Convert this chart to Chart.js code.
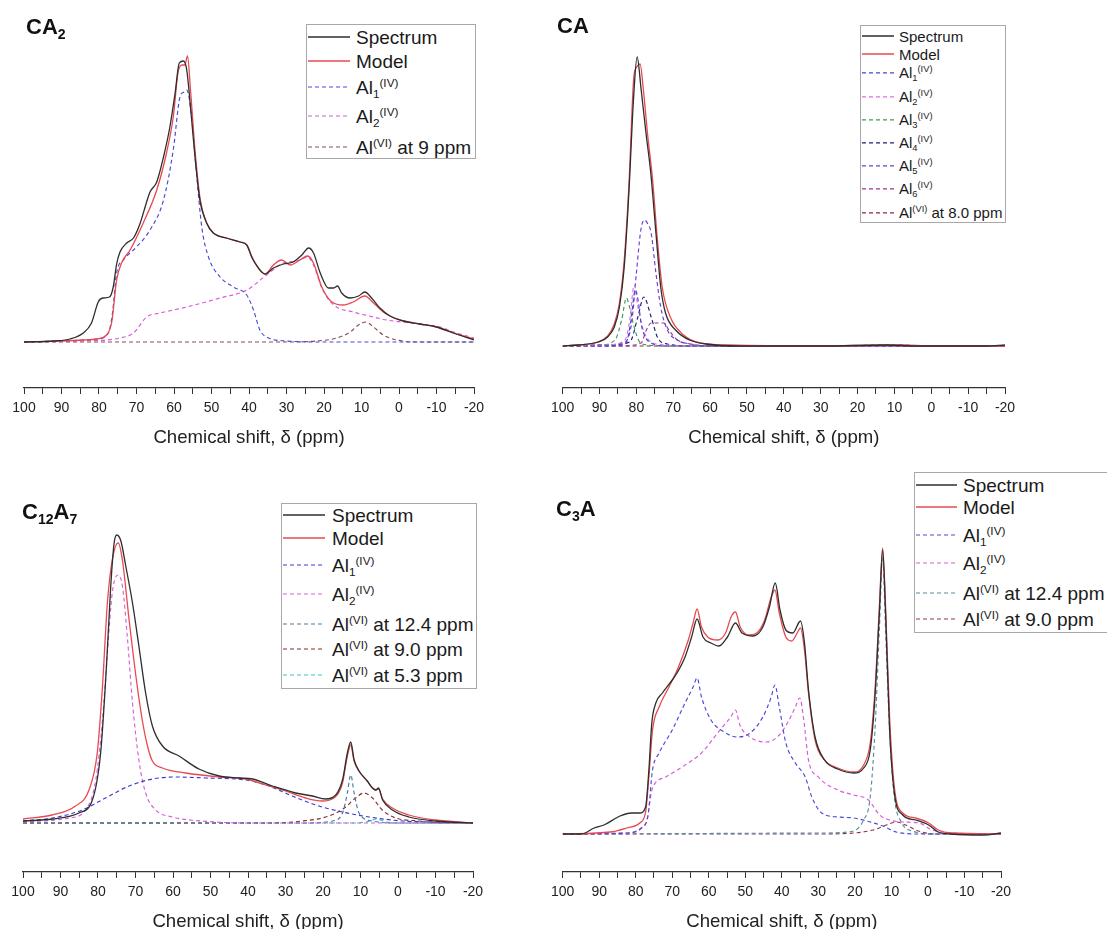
<!DOCTYPE html>
<html><head><meta charset="utf-8">
<script src="https://cdn.jsdelivr.net/npm/chart.js@4.4.1/dist/chart.umd.min.js"></script>
<style>
html,body{margin:0;padding:0;background:#fff;}
body{width:1107px;height:929px;position:relative;overflow:hidden;font-family:"Liberation Sans",Arial,sans-serif;color:#1a1a1a;}
.ttl{position:absolute;font-weight:bold;font-size:22px;line-height:1;white-space:nowrap;color:#111;}
.ttl sub{font-size:0.64em;position:relative;top:0.32em;vertical-align:baseline;}
.legend{position:absolute;border:1px solid #a8a8a8;background:#fff;box-sizing:border-box;z-index:5;}
.row{position:absolute;display:flex;align-items:center;transform:translateY(-50%);white-space:nowrap;line-height:1;}
.row svg{display:block;flex:none;}
.row sub,.row sup{font-size:0.62em;position:relative;vertical-align:baseline;}
.row sub{top:0.35em;}
.row sup{top:-0.62em;}
</style></head><body>
<script>
// ---------------- DATA: [chemical shift (ppm), intensity (a.u.)] ----------------
const xTickMin = -20, xTickMax = 100, xTickStep = 5;

// CA2
const ca2Spectrum = [[100,0],[92,1],[87.7,3],[84.2,9],[82,19],[80.2,40],[79,44],[77.2,45],[76.2,55],[75.3,78],[74.4,90],[72.6,99],[70.8,104],[69.1,118],[67.3,140],[66.4,150],[64.6,160],[62.8,185],[61.1,215],[59.7,249],[58.6,279],[57.5,281],[56.6,272],[55.6,235],[54.4,185],[53.1,142],[51.3,119],[49.5,109],[46,104],[42.4,100],[40.6,97],[39.3,85],[37.5,74],[35.7,68],[33.5,74],[30.8,78],[28.2,80],[25.9,87],[24.1,94],[22.8,89],[21,69],[18.8,54],[17.4,54],[16.4,56],[15.3,49],[13,44],[10.8,46],[9.1,50],[7.3,44],[5.1,34],[2.4,26],[-1.2,21],[-5.6,18],[-10,15],[-14.5,9],[-20,2]];
const ca2Model = [[100,0],[90,1],[84,2],[80.6,3],[78,7],[76.6,20],[75.3,62],[74,79],[71.7,92],[68.2,119],[64.6,152],[62,189],[60.2,225],[58.8,272],[57.7,277],[57.1,277],[56.4,286],[55.6,252],[54.4,192],[53.1,145],[51.3,119],[49.5,109],[46,104],[42.4,100],[40.6,97],[38.8,82],[35.7,68],[33.5,77],[31.3,82],[29,77],[26.4,82],[24.4,86],[22.8,79],[20.6,55],[17.9,40],[14.8,37],[12.2,40],[9.1,46],[6.8,39],[4.2,30],[2.4,26],[-1.2,21],[-5.6,18],[-10,15],[-14.5,9],[-20,3]];
const ca2Al1 = [[100,0],[90,1],[80.6,3],[77.5,9],[76.4,29],[75.3,69],[73.5,82],[70,95],[66.4,112],[62.8,142],[60.2,192],[58.4,245],[57.3,250],[56.6,252],[55.3,225],[54,169],[52.6,115],[50.8,85],[47.7,65],[44.2,55],[40.6,47],[38.8,32],[37.1,12],[34.8,4],[30,1],[20,0],[-20,0]];
const ca2Al2 = [[100,0],[85,1],[74.4,4],[70.8,9],[67.3,25],[63.7,29],[56.6,35],[47.7,44],[40.6,52],[35.3,67],[30.8,79],[27.3,81],[24.4,85],[22.8,77],[20.6,54],[17.4,37],[12.2,30],[6.8,25],[3.3,22],[-5.6,18],[-10.9,15],[-14.5,10],[-20,4]];
const ca2AlVI9 = [[100,0],[30,0],[22,1],[16.6,4],[13,10],[10.8,17],[8.8,20],[6.8,15],[4.2,7],[0.6,2],[-5,0],[-20,0]];

// CA
const caSpectrum = [[100,0],[95.7,1],[90.4,4],[87.8,9],[86,19],[84.6,39],[83.3,79],[82,156],[80.8,246],[79.8,289],[78.7,256],[77.4,213],[76.1,173],[74.7,113],[73.4,59],[72.1,33],[69.1,15],[65.6,6],[61.1,2],[52.3,0],[30,0],[12,1],[4,0],[-15,0],[-20,1]];
const caModel = [[100,0],[95.7,1],[90.4,4],[87.8,10],[86,22],[84.6,43],[83.3,86],[82,163],[80.7,269],[79.9,279],[79,282],[78.1,256],[77,213],[75.6,166],[74.3,106],[73,59],[70.8,29],[67.2,11],[62.7,3],[55,1],[30,0],[12,1],[8,1],[0,0],[-20,0]];
const caAl1 = [[100,0],[88,0],[84,1],[82.7,4],[81.5,25],[80.3,56],[79.5,45],[78.7,22],[77.6,9],[76,3],[72,0],[-20,0]];
const caAl2 = [[100,0],[88,1],[83.1,6],[81.8,26],[80.6,61],[79.6,39],[77.8,13],[76,4],[72,1],[65,0],[-20,0]];
const caAl3 = [[100,0],[90,1],[85.8,6],[84,26],[82.7,48],[81.8,38],[80.9,23],[79.1,4],[77,1],[70,0],[-20,0]];
const caAl4 = [[100,0],[88,1],[81.8,4],[79.6,29],[78,49],[76,29],[74.2,8],[71.6,2],[65,0],[-20,0]];
const caAl5 = [[100,0],[90,1],[83.1,4],[81.3,23],[80,73],[78.8,116],[77.8,126],[76.9,122],[76,113],[74.7,73],[73.4,39],[71.6,16],[68.9,6],[65.4,2],[60,0],[-20,0]];
const caAl6 = [[100,0],[85,0],[78.7,3],[77.3,16],[76,23],[72.5,23],[71.2,16],[68.9,6],[65.4,2],[60,0],[-20,0]];
const caAlVI8 = [[100,0],[25,0],[14,1],[8,1],[2,0],[-20,0]];

// C12A7
const c12a7Spectrum = [[100,2],[92.2,4],[85.1,10],[81.5,23],[79.3,70],[77.8,153],[76.6,237],[75.7,280],[75,288],[73.9,282],[72.6,257],[70.8,220],[69.1,177],[67.3,130],[65.5,97],[62.8,77],[58.4,67],[53.1,54],[47.7,47],[42.4,45],[38.8,44],[33.5,37],[27.3,30],[22.8,27],[19.3,24],[16.6,28],[14.8,43],[13.5,70],[12.6,81],[11.7,63],[10.4,52],[8.2,42],[6.8,35],[5.9,33],[5.2,35],[4.1,23],[1.5,13],[-2.9,6],[-10,2],[-20,0]];
const c12a7Model = [[100,4],[92.2,8],[86,17],[82.4,33],[80.2,70],[78.8,137],[77.5,220],[76.2,263],[74.6,280],[73.5,263],[71.7,203],[69.9,147],[68.2,103],[66.8,77],[65.5,62],[62.8,55],[56.6,50],[47.7,46],[40.6,44],[35.3,38],[30,32],[24.6,25],[20.2,22],[17.1,25],[14.8,40],[13.5,67],[12.6,78],[11.7,62],[10.4,52],[8.2,42],[6.8,35],[5.9,33],[5.2,34],[4.1,24],[1.5,15],[-2.9,8],[-10,3],[-20,0]];
const c12a7Al1 = [[100,2],[92.2,5],[84.2,13],[78,25],[71.7,37],[65.5,44],[59.3,46],[51.3,45],[40.6,43],[34.4,37],[28.2,27],[21.1,17],[14.8,11],[7.7,6],[-1.2,2],[-10,1],[-20,0]];
const c12a7Al2 = [[100,1],[87.7,5],[83.3,13],[80.6,43],[78.8,103],[77.5,170],[76.2,230],[74.7,248],[73.5,237],[72.2,187],[70.8,120],[69.1,63],[67.3,30],[64.6,13],[60.2,6],[52.2,2],[40,0],[-20,0]];
const c12a7AlVI124 = [[100,0],[25,0],[17.5,2],[14.8,10],[13.5,30],[12.6,48],[11.7,30],[10.4,10],[6.8,2],[0,0],[-20,0]];
const c12a7AlVI90 = [[100,0],[35,0],[25.5,2],[18.4,7],[14.3,15],[11.3,25],[9.1,30],[6.8,25],[4.2,13],[0.6,5],[-5.6,2],[-12,0],[-20,0]];
const c12a7AlVI53 = [[100,0],[12,0],[8.6,1],[5.5,4],[3.3,1],[0,0],[-20,0]];

// C3A
const c3aSpectrum = [[100,0],[94.9,0],[91.4,6],[88.7,9],[84.3,18],[81.2,21],[78.9,21],[77.3,27],[76.4,64],[75.6,111],[74.5,131],[72.7,141],[70,154],[68.7,161],[66.5,177],[64.7,197],[63.2,215],[61.6,197],[59.4,191],[57.2,188],[54.9,197],[52.7,211],[50.9,201],[47.8,198],[45.2,207],[43.4,227],[41.8,251],[40.5,224],[38.9,204],[37,201],[34.9,213],[33.8,191],[32.7,144],[30.9,97],[28.3,74],[24.7,65],[20.3,61],[17.6,66],[15.8,84],[14.5,137],[13.3,221],[12.4,284],[11.6,221],[10.5,104],[9.2,41],[6.9,19],[3.4,14],[-0.2,9],[-2.8,2],[-6.4,0],[-15.3,-1],[-20,1]];
const c3aModel = [[100,0],[86.9,2],[82.5,6],[78.9,11],[77.3,22],[76.4,57],[75.4,104],[73.6,127],[70.9,147],[68.3,167],[65.6,194],[64.3,211],[63.2,225],[62,207],[60.3,197],[57.6,194],[55.4,201],[53.9,217],[52.7,222],[51.4,207],[49.1,199],[46.9,201],[44.7,214],[42.9,237],[41.9,244],[40.7,221],[38.9,197],[37.3,193],[35.8,201],[34.9,206],[33.8,184],[32.7,141],[30.9,94],[28.3,74],[24.7,66],[20.3,62],[17.6,69],[15.8,91],[14.5,144],[13.3,227],[12.4,286],[11.6,227],[10.5,117],[9.2,47],[6.9,21],[3.4,16],[-0.2,11],[-2.8,4],[-6.4,1],[-20,0]];
const c3aAl1 = [[100,0],[82.5,1],[78.5,6],[76.7,17],[75.4,64],[73.6,81],[70,104],[66.5,131],[64.3,147],[63.2,156],[62,137],[59.4,114],[55.8,102],[52.2,97],[48.7,101],[45.2,117],[42.9,137],[41.9,149],[40.7,127],[38.9,91],[36.3,71],[33.6,57],[31.8,37],[29.1,21],[24.7,17],[20.3,16],[15.8,12],[12.3,8],[8.7,2],[2,0],[-20,0]];
const c3aAl2 = [[100,0],[82.5,1],[77.2,11],[75.4,46],[71.8,57],[66.5,69],[62,81],[57.6,101],[54,117],[52.7,124],[51.5,109],[48.7,97],[44.2,92],[40.7,99],[38,114],[36.3,127],[35.1,136],[34,114],[32.7,74],[30,57],[24.7,44],[20.3,39],[16.3,34],[13.2,19],[10.5,14],[6.9,12],[2.4,11],[-1.1,4],[-6.4,1],[-20,0]];
const c3aAlVI124 = [[100,0],[29.1,1],[22,2],[17.6,14],[15.8,37],[14.5,104],[13.3,204],[12.4,277],[11.6,204],[10.5,104],[9.2,37],[7.3,12],[4.3,3],[-2,0],[-20,0]];
const c3aAlVI90 = [[100,0],[30,0],[20.3,1],[15,4],[11.4,9],[8.7,12],[6.1,9],[2.6,3],[-2,0],[-20,0]];

// ---------------- LABELS & STYLES ----------------
const AL_IV = n => `Al<sub>${n}</sub><sup>(IV)</sup>`;
const AL_VI = s => `Al<sup>(VI)</sup> at ${s} ppm`;
const SPEC = {html:'Spectrum', color:'#2e2e2e', dash:false};
const MODEL = {html:'Model', color:'#e64a50', dash:false};
const AXIS_TITLE = 'Chemical shift, δ (ppm)';

const panels = [
  { title:'CA<sub>2</sub>', tl:26, tt:16,
    box:{cx:0, cy:0, cw:545, ch:465, areaL:24, areaR:474, areaT:20, axisY:388, baseY:342},
    legend:{l:306, t:24, w:170, h:135, font:19, lx:308, lw:42, tx:356, rows:[37,61,87,116,147]},
    series:[
      Object.assign({pts:ca2Spectrum}, SPEC),
      Object.assign({pts:ca2Model}, MODEL),
      {html:AL_IV(1), pts:ca2Al1, color:'#4848d8', dash:true},
      {html:AL_IV(2), pts:ca2Al2, color:'#d85ad8', dash:true},
      {html:AL_VI('9'), pts:ca2AlVI9, color:'#8c4c4c', dash:true}
    ]},
  { title:'CA', tl:557, tt:15,
    box:{cx:545, cy:0, cw:562, ch:465, areaL:554, areaR:1005, areaT:20, axisY:388, baseY:346},
    legend:{l:860, t:25, w:146, h:198, font:15, lx:862, lw:32, tx:899, rows:[36,54,73,97,120,143,166,189,213]},
    series:[
      Object.assign({pts:caSpectrum}, SPEC),
      Object.assign({pts:caModel}, MODEL),
      {html:AL_IV(1), pts:caAl1, color:'#4646d4', dash:true},
      {html:AL_IV(2), pts:caAl2, color:'#e070e0', dash:true},
      {html:AL_IV(3), pts:caAl3, color:'#3c9a5a', dash:true},
      {html:AL_IV(4), pts:caAl4, color:'#1e1e78', dash:true},
      {html:AL_IV(5), pts:caAl5, color:'#6a3cd8', dash:true},
      {html:AL_IV(6), pts:caAl6, color:'#a0309a', dash:true},
      {html:AL_VI('8.0'), pts:caAlVI8, color:'#8a2a3a', dash:true}
    ]},
  { title:'C<sub>12</sub>A<sub>7</sub>', tl:22, tt:501,
    box:{cx:0, cy:465, cw:545, ch:464, areaL:23, areaR:473, areaT:500, axisY:872, baseY:823},
    legend:{l:281, t:503, w:196, h:186, font:19, lx:283, lw:42, tx:332, rows:[515,538,565,594,624,649,675]},
    series:[
      Object.assign({pts:c12a7Spectrum}, SPEC),
      Object.assign({pts:c12a7Model}, MODEL),
      {html:AL_IV(1), pts:c12a7Al1, color:'#3a3ad0', dash:true},
      {html:AL_IV(2), pts:c12a7Al2, color:'#d860d8', dash:true},
      {html:AL_VI('12.4'), pts:c12a7AlVI124, color:'#4a7a9a', dash:true},
      {html:AL_VI('9.0'), pts:c12a7AlVI90, color:'#8a2a2a', dash:true},
      {html:AL_VI('5.3'), pts:c12a7AlVI53, color:'#40c0c0', dash:true}
    ]},
  { title:'C<sub>3</sub>A', tl:556, tt:498,
    box:{cx:545, cy:465, cw:562, ch:464, areaL:551, areaR:1001, areaT:500, axisY:872, baseY:834},
    legend:{l:914, t:472, w:200, h:161, font:19, lx:916, lw:41, tx:963, rows:[485,507,535,563,593,619]},
    series:[
      Object.assign({pts:c3aSpectrum}, SPEC),
      Object.assign({pts:c3aModel}, MODEL),
      {html:AL_IV(1), pts:c3aAl1, color:'#4a4ad6', dash:true},
      {html:AL_IV(2), pts:c3aAl2, color:'#d65ad6', dash:true},
      {html:AL_VI('12.4'), pts:c3aAlVI124, color:'#5a8a9a', dash:true},
      {html:AL_VI('9.0'), pts:c3aAlVI90, color:'#8a3a50', dash:true}
    ]}
];

Chart.defaults.font.family = '"Liberation Sans", Arial, sans-serif';

function buildPanel(p){
  const b = p.box;
  const c = document.createElement('canvas');
  c.width = b.cw; c.height = b.ch;
  Object.assign(c.style, {position:'absolute', left:b.cx+'px', top:b.cy+'px', width:b.cw+'px', height:b.ch+'px'});
  document.body.appendChild(c);
  const pad = {left:b.areaL-b.cx, right:b.cx+b.cw-b.areaR, top:b.areaT-b.cy, bottom:20};
  const chart = new Chart(c, {
    type:'line',
    data:{datasets:p.series.map(s => ({
      label:s.html.replace(/<[^>]+>/g,''),
      data:s.pts.map(q => ({x:q[0], y:q[1]})),
      borderColor:s.color, borderWidth:s.dash ? 1.15 : 1.3,
      borderDash:s.dash ? [4,3] : [], pointRadius:0, fill:false,
      cubicInterpolationMode:'monotone'
    }))},
    options:{
      responsive:false, animation:false, devicePixelRatio:1, events:[],
      layout:{padding:pad},
      plugins:{legend:{display:false}, tooltip:{enabled:false}},
      scales:{
        x:{type:'linear', reverse:true, min:xTickMin, max:xTickMax,
          ticks:{stepSize:xTickStep, autoSkip:false, maxRotation:0, color:'#222', padding:6,
            font:{size:14}, callback:v => (v % 10 === 0 ? String(v) : '')},
          grid:{drawOnChartArea:false, drawTicks:true, tickLength:6, tickColor:'#333', tickWidth:1},
          border:{display:true, color:'#333', width:1.2},
          title:{display:true, text:AXIS_TITLE, color:'#222', font:{size:18.6}, padding:{top:4, bottom:0}}},
        y:{display:false, min:-(b.axisY-b.baseY), max:b.baseY-b.areaT}
      }
    }
  });
  for (let i = 0; i < 3; i++) {
    const a = chart.chartArea;
    pad.left += (b.areaL - b.cx) - a.left;
    pad.right += a.right - (b.areaR - b.cx);
    pad.top += (b.areaT - b.cy) - a.top;
    pad.bottom += a.bottom - (b.axisY - b.cy);
    chart.options.layout.padding = pad;
    chart.update();
  }
  // title
  const t = document.createElement('div');
  t.className = 'ttl'; t.innerHTML = p.title;
  t.style.left = p.tl + 'px'; t.style.top = p.tt + 'px';
  document.body.appendChild(t);
  // legend
  const L = p.legend;
  const lg = document.createElement('div');
  lg.className = 'legend';
  Object.assign(lg.style, {left:L.l+'px', top:L.t+'px', width:L.w+'px', height:L.h+'px', fontSize:L.font+'px'});
  p.series.forEach((s, i) => {
    const r = document.createElement('div');
    r.className = 'row';
    r.style.left = (L.lx - L.l - 1) + 'px';
    r.style.top = (L.rows[i] - L.t - 1) + 'px';
    r.style.gap = (L.tx - L.lx - L.lw) + 'px';
    const dash = s.dash ? ' stroke-dasharray="4 3"' : '';
    r.innerHTML = `<svg width="${L.lw}" height="7"><line x1="0" y1="3.5" x2="${L.lw}" y2="3.5" stroke="${s.color}" stroke-width="${s.dash?1.2:1.3}"${dash}/></svg><span>${s.html}</span>`;
    lg.appendChild(r);
  });
  document.body.appendChild(lg);
}
panels.forEach(buildPanel);
</script>
</body></html>
